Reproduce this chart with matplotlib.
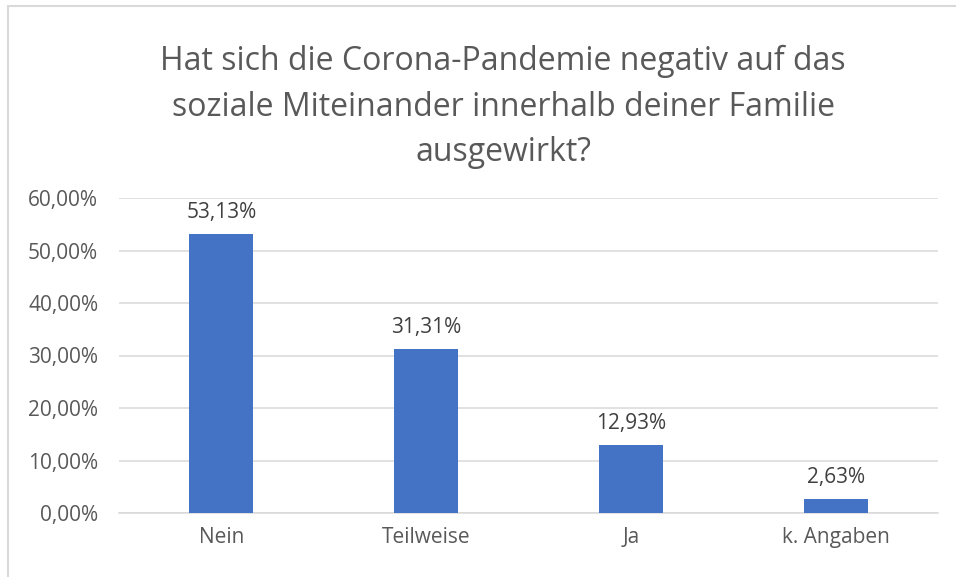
import matplotlib.pyplot as plt
from matplotlib.patches import Rectangle

categories = ["Nein", "Teilweise", "Ja", "k. Angaben"]
values = [53.13, 31.31, 12.93, 2.63]
y_ticks = [0, 10, 20, 30, 40, 50, 60]

title = ("Hat sich die Corona-Pandemie negativ auf das\n"
         "soziale Miteinander innerhalb deiner Familie\n"
         "ausgewirkt?")

plt.rcParams['font.family'] = ['Open Sans', 'DejaVu Sans']

W, H = 956, 577
fig = plt.figure(figsize=(W / 100, H / 100), dpi=100)

# light chart border (left and top edges visible)
fig.patches.append(Rectangle((8 / W, -0.1), 1.2, 1.1 - 6 / H,
                             transform=fig.transFigure, fill=False,
                             edgecolor='#d9d9d9', linewidth=1.5))

ax = fig.add_axes([119 / W, 64 / H, (938 - 119) / W, (513 - 198) / H])

x = range(len(categories))
bars = ax.bar(x, values, width=0.3125, color='#4472c4', zorder=3)

for xi, v in zip(x, values):
    ax.annotate(f"{v:.2f}".replace(".", ",") + "%", (xi, v),
                xytext=(0, 8), textcoords='offset points',
                ha='center', va='bottom', fontsize=15, color='#404040')

ax.set_xlim(-0.5, len(categories) - 0.5)
ax.set_ylim(0, 60)
ax.set_yticks(y_ticks)
ax.set_yticklabels([f"{t:.2f}".replace(".", ",") + "%" for t in y_ticks])
ax.set_xticks(list(x))
ax.set_xticklabels(categories)
ax.tick_params(axis='y', length=0, pad=15, labelsize=15, labelcolor='#595959')
ax.tick_params(axis='x', length=0, pad=10, labelsize=15, labelcolor='#595959')

ax.grid(axis='y', color='#d9d9d9', linewidth=1.1, zorder=0)
for side in ['top', 'right', 'left']:
    ax.spines[side].set_visible(False)
ax.spines['bottom'].set_color('#d9d9d9')
ax.spines['bottom'].set_linewidth(1.1)

fig.text(503 / W, 1 - 107 / H, title, ha='center', va='center',
         fontsize=23, color='#595959', linespacing=1.5)

fig.savefig("out.png", dpi=100)
